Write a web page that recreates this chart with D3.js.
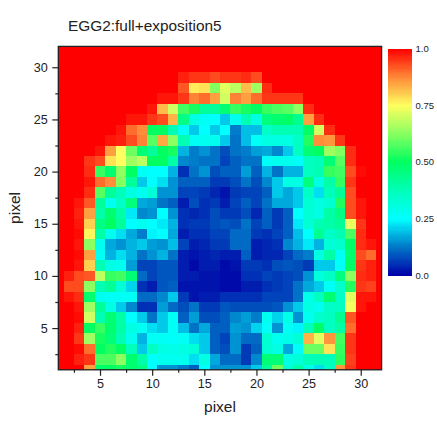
<!DOCTYPE html>
<html><head><meta charset="utf-8">
<script src="https://cdn.jsdelivr.net/npm/d3@7/dist/d3.min.js"></script>
<style>html,body{margin:0;background:#fff}svg{display:block}text{font-family:"Liberation Sans",Arial,sans-serif;fill:#222}</style>
</head><body><svg id="c" width="437" height="441"></svg>
<script>
const titleText="EGG2:full+exposition5";
const xLabel="pixel", yLabel="pixel";
const majorTicks=[5,10,15,20,25,30];
const minorTicks=[2.5,7.5,12.5,17.5,22.5,27.5];
const legendTicks=[0,25,50,75,100];
const legendLabels=["0.0","0.25","0.50","0.75","1.0"];
const colorStops=[0,12.5,25,37.5,50,62.5,75,87.5,100];
const colorValues=["#0000a8","#0078c8","#00ffff","#00ffb8","#00ff60","#88ff60","#ffff60","#ff8838","#ff0000"];
// z value in percent; first row is pixel y=32, last row y=1; columns x=1..32
const R=100;
const zRows=[
[R,R,R,R,R,R,R,R,R,R,R,R,R,R,R,R,R,R,R,R,R,R,R,R,R,R,R,R,R,R,R,R],
[R,R,R,R,R,R,R,R,R,R,R,R,R,R,R,R,R,R,R,R,R,R,R,R,R,R,R,R,R,R,R,R],
[R,R,R,R,R,R,R,R,R,R,R,R,R,R,R,R,R,R,R,R,R,R,R,R,R,R,R,R,R,R,R,R],
[R,R,R,R,R,R,R,R,R,R,R,R,97,95,95,93,95,95,96,93,R,R,R,R,R,R,R,R,R,R,R,R],
[R,R,R,R,R,R,R,R,R,R,R,R,92,77,78,62,72,68,82,65,96,R,R,R,R,R,R,R,R,R,R,R],
[R,R,R,R,R,R,R,R,R,R,98,98,95,88,90,85,70,88,85,90,95,95,95,95,R,R,R,R,R,R,R,R],
[R,R,R,R,R,R,R,R,R,98,82,70,56,52,42,42,47,55,52,50,55,57,58,63,96,R,R,R,R,R,R,R],
[R,R,R,R,R,R,R,98,98,95,93,83,45,30,27,25,20,28,38,30,46,48,49,43,85,96,R,R,R,R,R,R],
[R,R,R,R,R,R,98,90,87,50,50,38,27,20,25,20,25,13,19,19,35,38,38,38,49,70,96,R,R,R,R,R],
[R,R,R,R,R,98,97,93,88,58,84,63,38,27,28,28,20,12,19,27,30,30,30,35,53,87,86,95,R,R,R,R],
[R,R,R,R,98,85,75,60,47,42,50,52,18,13,15,12,8,12,13,16,17,14,20,36,47,50,65,62,96,R,R,R],
[R,R,R,95,93,78,75,65,68,50,50,40,14,13,12,12,7,10,12,12,26,28,28,26,36,37,47,58,96,R,R,R],
[R,R,R,96,55,48,63,50,27,25,25,18,5,12,15,8,10,10,16,10,18,12,18,18,36,38,55,56,93,99,R,R],
[R,R,R,98,90,87,62,42,20,25,22,15,10,10,10,6,6,8,12,8,14,20,30,30,46,30,40,55,95,R,R,R],
[R,R,R,96,58,42,37,30,28,32,15,15,7,7,6,4,2,6,7,7,10,20,17,20,35,22,37,42,93,R,R,R],
[R,R,98,92,42,28,35,46,17,16,12,10,3,8,5,6,3,7,10,7,12,17,17,20,33,30,33,53,93,98,R,R],
[R,R,97,85,40,48,40,23,14,15,25,15,5,4,5,8,6,6,8,4,10,6,10,25,32,30,40,45,93,98,R,R],
[R,R,98,80,45,50,42,25,28,25,23,18,5,6,6,8,9,8,12,7,10,6,10,23,33,38,40,42,73,95,R,R],
[R,R,99,76,40,28,22,17,13,24,25,17,3,5,5,7,7,11,11,6,5,7,10,19,25,43,35,38,57,96,R,R],
[R,R,98,63,28,17,15,18,20,16,15,19,7,3,4,6,6,11,11,3,4,5,14,18,23,18,32,34,49,96,98,R],
[R,R,99,85,27,18,22,18,12,15,18,12,3,2,3,4,3,3,10,3,4,4,7,11,13,30,40,27,48,93,90,R],
[R,R,98,80,38,30,28,16,7,7,9,9,3,1,3,3,1,2,6,6,5,8,9,8,6,20,20,26,49,95,97,R],
[R,97,93,92,68,55,56,47,11,7,9,9,3,3,2,2,1,1,5,5,7,6,7,8,15,31,35,46,63,96,97,R],
[R,93,93,63,38,42,32,21,5,3,9,10,2,2,2,2,1,1,3,3,5,6,7,12,17,20,27,34,53,95,94,R],
[R,98,96,48,28,27,27,27,11,11,14,20,6,2,3,3,5,5,5,5,7,7,7,12,29,36,48,35,72,98,98,R],
[R,R,98,65,42,30,20,14,5,5,16,11,8,12,6,6,9,8,8,8,8,9,15,20,30,28,35,36,74,98,R,R],
[R,R,99,70,38,47,40,25,20,12,20,27,10,16,8,8,10,14,16,13,28,21,29,15,28,34,36,43,92,R,R,R],
[R,R,97,50,55,48,40,30,27,22,20,27,19,12,17,10,10,16,15,21,26,15,27,24,37,49,36,40,90,R,R,R],
[R,R,95,65,52,47,38,28,18,27,27,26,27,22,20,10,7,15,11,11,33,28,29,32,83,72,86,56,95,R,R,R],
[R,R,99,90,50,53,50,37,20,36,30,29,30,32,20,10,8,15,6,10,33,30,17,26,60,60,78,55,95,R,R,R],
[R,R,97,95,57,57,63,48,40,25,28,28,28,22,30,17,11,11,6,14,47,47,30,32,37,38,37,54,94,R,R,R],
[R,R,R,85,48,50,52,48,45,25,15,15,13,10,25,15,15,15,15,20,42,60,32,40,30,22,35,86,95,R,R,R]
];
const svg=d3.select("#c");
const x=d3.scaleLinear().domain([1,32]).range([58.3,381.6]);
const y=d3.scaleLinear().domain([1,32]).range([369.8,46.4]);
const color=d3.scaleLinear().domain(colorStops).range(colorValues).clamp(true);
const cells=zRows.flatMap((row,r)=>row.map((v,c)=>({px:c+1,py:32-r,v})));
svg.append("g").attr("shape-rendering","crispEdges").selectAll("rect").data(cells).join("rect")
 .attr("x",d=>x(Math.max(d.px-.5,1)))
 .attr("y",d=>y(Math.min(d.py+.5,32)))
 .attr("width",d=>x(Math.min(d.px+.5,32))-x(Math.max(d.px-.5,1))+.5)
 .attr("height",d=>y(Math.max(d.py-.5,1))-y(Math.min(d.py+.5,32))+.5)
 .attr("fill",d=>color(d.v));
function styleAxis(g){g.selectAll("line").attr("stroke","#222").attr("stroke-width",1.2);g.select(".domain").remove();g.selectAll("text").attr("font-size",12.6).attr("fill","#222");}
const plotBottom=y.range()[0], plotLeft=x.range()[0], plotTop=y.range()[1], plotRight=x.range()[1];
svg.append("g").attr("transform",`translate(0,${plotBottom})`).call(d3.axisBottom(x).tickValues(majorTicks).tickSize(6).tickPadding(3.5)).call(styleAxis);
svg.append("g").attr("transform",`translate(0,${plotBottom})`).call(d3.axisBottom(x).tickValues(minorTicks).tickSize(3).tickFormat("")).call(styleAxis);
svg.append("g").attr("transform",`translate(${plotLeft},0)`).call(d3.axisLeft(y).tickValues(majorTicks).tickSize(6).tickPadding(4.5)).call(styleAxis);
svg.append("g").attr("transform",`translate(${plotLeft},0)`).call(d3.axisLeft(y).tickValues(minorTicks).tickSize(3).tickFormat("")).call(styleAxis);
svg.append("rect").attr("x",plotLeft).attr("y",plotTop).attr("width",plotRight-plotLeft).attr("height",plotBottom-plotTop).attr("fill","none").attr("stroke","#222").attr("stroke-width",1.3);
svg.append("text").attr("x",68).attr("y",30.5).attr("font-size",15.4).text(titleText);
svg.append("text").attr("x",220).attr("y",412).attr("text-anchor","middle").attr("font-size",15.5).text(xLabel);
svg.append("text").attr("transform","translate(20,208) rotate(-90)").attr("text-anchor","middle").attr("font-size",15.5).text(yLabel);
// colour bar
const ly=d3.scaleLinear().domain([0,100]).range([275.5,49]);
const steps=d3.range(0,100,0.5);
svg.append("g").attr("shape-rendering","crispEdges").selectAll("rect").data(steps).join("rect")
 .attr("x",388).attr("width",23.5).attr("y",d=>ly(d+.5)).attr("height",d=>ly(d)-ly(d+.5)+.5).attr("fill",d=>color(d));
svg.append("g").selectAll("text").data(legendTicks).join("text")
 .attr("x",415.5).attr("y",d=>ly(d)+3).attr("font-size",9.5).attr("fill","#444").text((d,i)=>legendLabels[i]);
</script></body></html>
